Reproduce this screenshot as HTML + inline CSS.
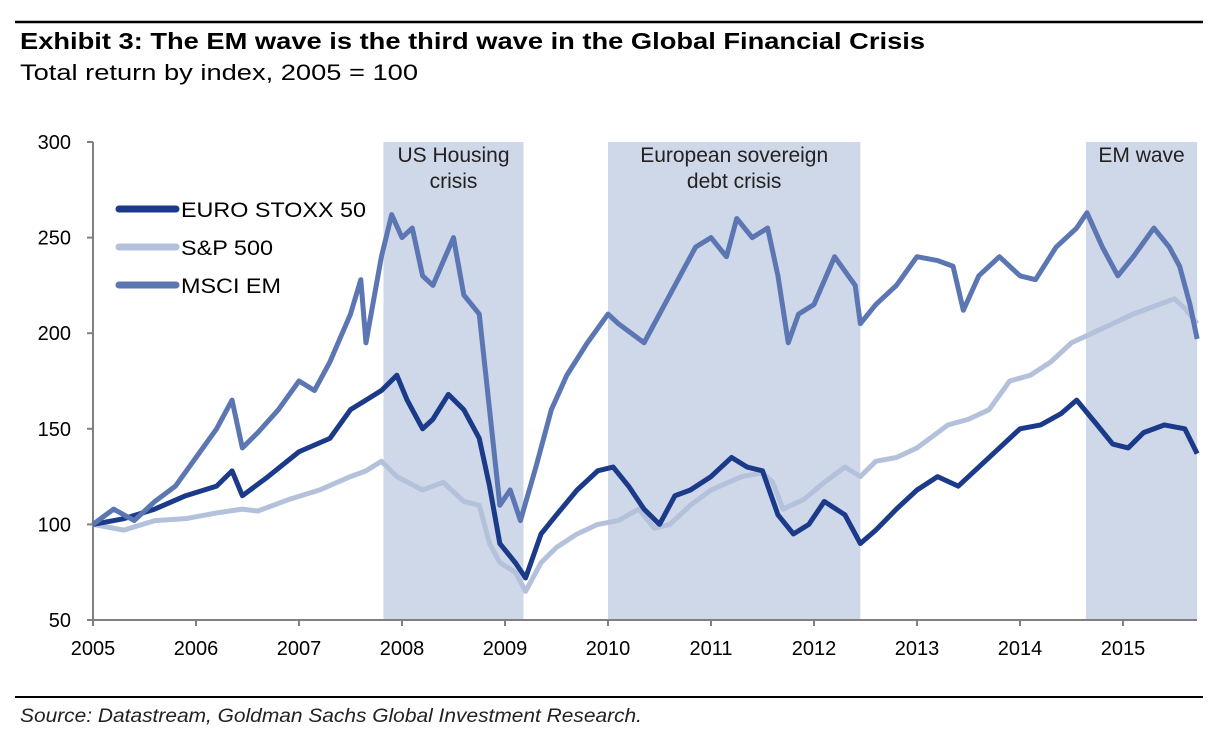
<!DOCTYPE html>
<html><head><meta charset="utf-8"><style>
body{margin:0;background:#fff;width:1213px;height:733px;overflow:hidden;font-family:"Liberation Sans",Arial,sans-serif;}
</style></head><body>
<svg id="chart" width="1213" height="733" xmlns="http://www.w3.org/2000/svg" font-family="Liberation Sans, Arial, sans-serif">
<line x1="15" y1="22" x2="1203" y2="22" stroke="#000" stroke-width="2.5"/>
<text x="20" y="49" font-size="23" font-weight="bold" fill="#000" textLength="905" lengthAdjust="spacingAndGlyphs">Exhibit 3: The EM wave is the third wave in the Global Financial Crisis</text>
<text x="20" y="80" font-size="22" fill="#000" textLength="398" lengthAdjust="spacingAndGlyphs">Total return by index, 2005 = 100</text>
<g id="shades"></g>
<g id="axes"></g>
<g id="lines"></g>
<g id="legend"></g>
<line x1="15" y1="697" x2="1203" y2="697" stroke="#000" stroke-width="2"/>
<text x="20" y="722" font-size="19" font-style="italic" fill="#222" textLength="622" lengthAdjust="spacingAndGlyphs">Source: Datastream, Goldman Sachs Global Investment Research.</text>
</svg>
<script>
const yTicks=[50,100,150,200,250,300];
const xTicks=[2005,2006,2007,2008,2009,2010,2011,2012,2013,2014,2015];
const shadeStarts=[2007.82,2010.0,2014.64];
const shadeEnds=[2009.18,2012.45,2015.72];
const shadeLabels=[["US Housing","crisis"],["European sovereign","debt crisis"],["EM wave"]];
const emT=[2005,2005.2,2005.4,2005.6,2005.8,2006.0,2006.2,2006.35,2006.45,2006.6,2006.8,2007.0,2007.15,2007.3,2007.5,2007.6,2007.65,2007.8,2007.9,2008.0,2008.1,2008.2,2008.3,2008.5,2008.6,2008.75,2008.85,2008.95,2009.05,2009.15,2009.3,2009.45,2009.6,2009.8,2010.0,2010.1,2010.35,2010.5,2010.7,2010.85,2011.0,2011.15,2011.25,2011.4,2011.55,2011.65,2011.75,2011.85,2012.0,2012.2,2012.4,2012.45,2012.6,2012.8,2013.0,2013.2,2013.35,2013.45,2013.6,2013.8,2014.0,2014.15,2014.35,2014.55,2014.65,2014.8,2014.95,2015.1,2015.3,2015.45,2015.55,2015.65,2015.72];
const emV=[100,108,102,112,120,135,150,165,140,148,160,175,170,185,210,228,195,240,262,250,255,230,225,250,220,210,160,110,118,102,130,160,178,195,210,205,195,210,230,245,250,240,260,250,255,230,195,210,215,240,225,205,215,225,240,238,235,212,230,240,230,228,245,255,263,245,230,240,255,245,235,215,197];
const euT=[2005,2005.3,2005.6,2005.9,2006.2,2006.35,2006.45,2006.7,2007.0,2007.3,2007.5,2007.65,2007.8,2007.95,2008.05,2008.2,2008.3,2008.45,2008.6,2008.75,2008.85,2008.95,2009.1,2009.2,2009.35,2009.5,2009.7,2009.9,2010.05,2010.2,2010.35,2010.5,2010.65,2010.8,2011.0,2011.2,2011.35,2011.5,2011.65,2011.8,2011.95,2012.1,2012.3,2012.45,2012.6,2012.8,2013.0,2013.2,2013.4,2013.6,2013.8,2014.0,2014.2,2014.4,2014.55,2014.75,2014.9,2015.05,2015.2,2015.4,2015.6,2015.72];
const euV=[100,103,108,115,120,128,115,125,138,145,160,165,170,178,165,150,155,168,160,145,120,90,80,72,95,105,118,128,130,120,108,100,115,118,125,135,130,128,105,95,100,112,105,90,97,108,118,125,120,130,140,150,152,158,165,152,142,140,148,152,150,137];
const spT=[2005,2005.3,2005.6,2005.9,2006.2,2006.45,2006.6,2006.9,2007.2,2007.5,2007.65,2007.8,2007.95,2008.2,2008.4,2008.6,2008.75,2008.85,2008.95,2009.1,2009.2,2009.35,2009.5,2009.7,2009.9,2010.1,2010.3,2010.45,2010.6,2010.8,2011.0,2011.3,2011.5,2011.6,2011.7,2011.9,2012.1,2012.3,2012.45,2012.6,2012.8,2013.0,2013.3,2013.5,2013.7,2013.9,2014.1,2014.3,2014.5,2014.7,2014.9,2015.1,2015.35,2015.5,2015.6,2015.72];
const spV=[100,97,102,103,106,108,107,113,118,125,128,133,125,118,122,112,110,90,80,75,65,80,88,95,100,102,108,98,100,110,118,125,127,122,108,113,122,130,125,133,135,140,152,155,160,175,178,185,195,200,205,210,215,218,213,205];
const ns="http://www.w3.org/2000/svg";
const X0=93,X1=103,Y0=620,YS=478/250;
const xs=t=>X0+(t-2005)*X1;
const ys=v=>Y0-(v-50)*YS;
function mk(tag,attrs,parent){const e=document.createElementNS(ns,tag);for(const k in attrs)e.setAttribute(k,attrs[k]);parent.appendChild(e);return e;}
const sh=document.getElementById('shades');
shadeStarts.forEach((s,i)=>{
 const r=mk('rect',{x:xs(s),y:ys(300),width:xs(shadeEnds[i])-xs(s),height:ys(50)-ys(300),fill:'#cfd8e8'},sh);
 
 
 shadeLabels[i].forEach((l,j)=>{
  const t=mk('text',{x:(xs(s)+xs(shadeEnds[i]))/2,y:162+j*26,'font-size':21,'text-anchor':'middle',fill:'#222'},sh);
  t.textContent=l;
  
  
 });
});
const ax=document.getElementById('axes');
const yl=mk('line',{x1:X0,y1:ys(300),x2:X0,y2:Y0,stroke:'#808080','stroke-width':2},ax);


const xl=mk('line',{x1:X0,y1:Y0,x2:1197,y2:Y0,stroke:'#808080','stroke-width':2},ax);


yTicks.forEach(v=>{
 mk('line',{x1:X0-6,y1:ys(v),x2:X0,y2:ys(v),stroke:'#808080','stroke-width':2},ax);
 const t=mk('text',{x:X0-22,y:ys(v)+7,'font-size':20,'text-anchor':'end',fill:'#000'},ax);
 t.textContent=v;
 
 
});
xTicks.forEach(v=>{
 mk('line',{x1:xs(v),y1:Y0,x2:xs(v),y2:Y0+6,stroke:'#808080','stroke-width':2},ax);
 const t=mk('text',{x:xs(v),y:Y0+35,'font-size':20,'text-anchor':'middle',fill:'#000'},ax);
 t.textContent=v;
 
 
});
const ln=document.getElementById('lines');
function series(T,V,color,name){
 const p=mk('polyline',{points:T.map((t,i)=>xs(t)+','+ys(V[i])).join(' '),fill:'none',stroke:color,'stroke-width':5,'stroke-linejoin':'round'},ln);
 
 
}
series(spT,spV,'#b3c1db','sp500-line');
series(euT,euV,'#1c3a8a','euro-stoxx-line');
series(emT,emV,'#5b76b2','msci-em-line');
const lg=document.getElementById('legend');
const legW=[185,92,100];
[['EURO STOXX 50','#1c3a8a'],['S&P 500','#b3c1db'],['MSCI EM','#5b76b2']].forEach((e,i)=>{
 const y=209+i*38;
 mk('line',{x1:119,y1:y,x2:176,y2:y,stroke:e[1],'stroke-width':7,'stroke-linecap':'round'},lg);
 const t=mk('text',{x:181,y:y+8,'font-size':21,fill:'#000',textLength:legW[i],lengthAdjust:'spacingAndGlyphs'},lg);
 t.textContent=e[0];
 
 
});
</script>
</body></html>
